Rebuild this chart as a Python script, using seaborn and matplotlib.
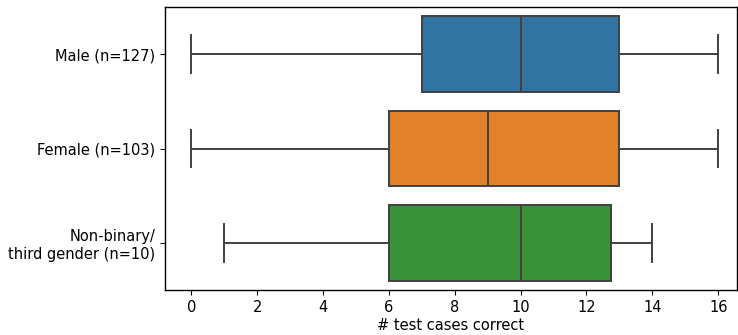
import pandas as pd
import matplotlib
matplotlib.use("Agg")
import matplotlib.pyplot as plt
import seaborn as sns

# summary points (min, q1, median, q3, max)
male_scores = [0, 7, 10, 13, 16]
female_scores = [0, 6, 9, 13, 16]
nonbinary_scores = [1, 4, 6, 6, 10, 10, 12, 13, 14, 14]

groups = ["Male (n=127)", "Female (n=103)", "Non-binary/\nthird gender (n=10)"]

df = pd.concat([
    pd.DataFrame({"group": groups[0], "score": male_scores}),
    pd.DataFrame({"group": groups[1], "score": female_scores}),
    pd.DataFrame({"group": groups[2], "score": nonbinary_scores}),
], ignore_index=True)

plt.rcParams["font.size"] = 10.5

fig, ax = plt.subplots(figsize=(7.38, 3.35), dpi=100)
fig.subplots_adjust(left=0.2236, right=0.9986, top=0.979, bottom=0.134)

sns.boxplot(data=df, x="score", y="group", hue="group", order=groups,
            hue_order=groups, palette="tab10", legend=False,
            linecolor="#404040", linewidth=1.4, ax=ax)

ax.set_xlim(-0.8, 16.57)
ax.set_xticks(range(0, 17, 2))
ax.set_xlabel("# test cases correct", fontsize=10.5, labelpad=2)
ax.set_ylabel("")
ax.tick_params(labelsize=10.5)
for s in ax.spines.values():
    s.set_linewidth(1.0)

fig.savefig("out.png", dpi=100)
